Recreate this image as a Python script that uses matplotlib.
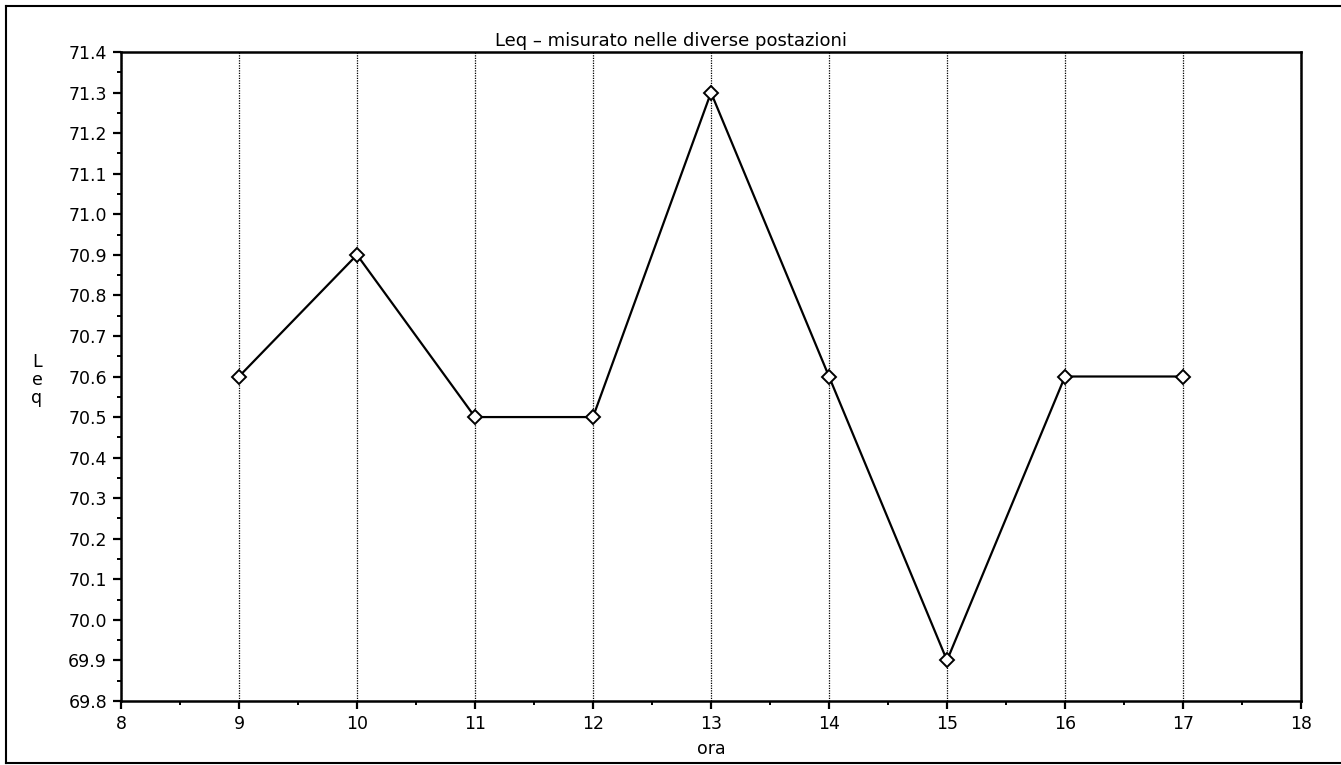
import matplotlib
matplotlib.use("Agg")
import matplotlib.pyplot as plt
from matplotlib.lines import Line2D
from matplotlib.ticker import MultipleLocator, FixedLocator

ore = [9, 10, 11, 12, 13, 14, 15, 16, 17]
leq = [70.6, 70.9, 70.5, 70.5, 71.3, 70.6, 69.9, 70.6, 70.6]
x_ticks = [8, 9, 10, 11, 12, 13, 14, 15, 16, 17, 18]
y_ticks = [69.8, 69.9, 70.0, 70.1, 70.2, 70.3, 70.4, 70.5, 70.6, 70.7,
           70.8, 70.9, 71.0, 71.1, 71.2, 71.3, 71.4]
title = "Leq \u2013 misurato nelle diverse postazioni"

plt.rcParams['font.family'] = ['DejaVu Sans']
fig = plt.figure(figsize=(13.41, 7.65), dpi=100)
ax = fig.add_axes([121/1341, 1-701/765, (1301-121)/1341, (701-52)/765])

ax.plot(ore, leq, color='black', lw=1.6, marker='D', markersize=7.5,
        markerfacecolor='white', markeredgecolor='black', markeredgewidth=1.4,
        zorder=3)

ax.set_xlim(8, 18)
ax.set_ylim(69.8, 71.4)
ax.xaxis.set_major_locator(FixedLocator(x_ticks))
ax.yaxis.set_major_locator(FixedLocator(y_ticks))
ax.set_xticklabels([str(v) for v in x_ticks])
ax.set_yticklabels([f"{v:.1f}" for v in y_ticks])
ax.xaxis.set_minor_locator(MultipleLocator(0.5))
ax.yaxis.set_minor_locator(MultipleLocator(0.05))

ax.tick_params(axis='both', which='major', direction='out', length=6, width=1.6,
               labelsize=12.5, colors='black', pad=4)
ax.tick_params(axis='both', which='minor', direction='out', length=3, width=1.4)

for s in ax.spines.values():
    s.set_linewidth(1.8)
    s.set_color('black')

ax.grid(axis='x', which='major', color='black', linestyle=(0, (1, 1)), lw=0.9)

ax.set_title(title, fontsize=13, pad=4, x=(671-121)/1180)
ax.set_xlabel("ora", fontsize=12.5, labelpad=5)
fig.text(37/1341, 1-380/765, "L\ne\nq", fontsize=12.5, ha='center', va='center',
         linespacing=1.0)

# outer frame of the scanned page
for xs, ys in [([6/1341, 6/1341], [1-6/765, 1-763/765]),
               ([6/1341, 1.0], [1-6/765, 1-6/765]),
               ([6/1341, 1.0], [1-763/765, 1-763/765])]:
    fig.add_artist(Line2D(xs, ys, transform=fig.transFigure, color='black', lw=1.5))

fig.savefig("out.png", dpi=100)
